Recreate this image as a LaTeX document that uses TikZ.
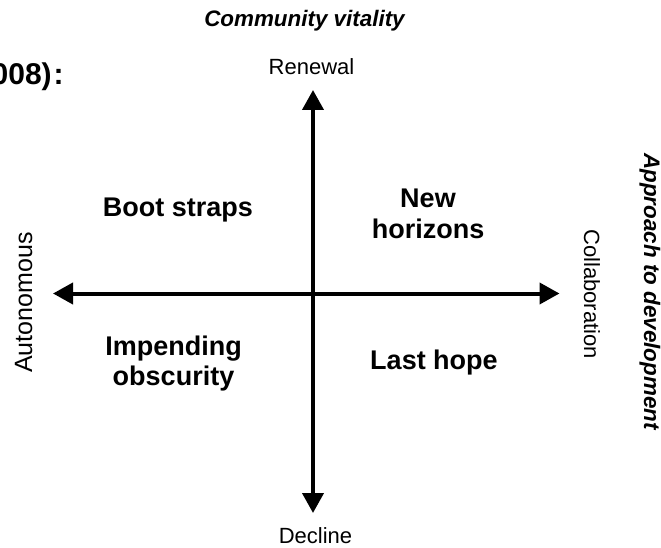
\documentclass[tikz,border=0pt]{standalone}
\usepackage{fontspec}
\setmainfont{Liberation Sans}
\usetikzlibrary{arrows.meta}
\newcommand{\fs}[1]{\fontsize{#1}{1.15\dimexpr#1pt\relax}\selectfont}
\begin{document}
\begin{tikzpicture}[x=1pt,y=-1pt,
    axis/.style={line width=4pt,
      {Triangle[length=20pt,width=21pt]}-{Triangle[length=20pt,width=21pt]}},
    pole/.style={anchor=base,inner sep=0pt,font=\fs{22}},
    quad/.style={anchor=base,inner sep=0pt,align=center,font=\fs{27}\bfseries},
    title/.style={anchor=base,inner sep=0pt,font=\fs{22.4}\bfseries\itshape}]
  \useasboundingbox (0,0) rectangle (661,548);

  % ends of the two axes
  \coordinate (up) at (313,90);
  \coordinate (down) at (313,513);
  \coordinate (west) at (53,293.5);
  \coordinate (east) at (559.5,293.5);

  \draw[axis] (down) -- (up);
  \draw[axis] (west) -- (east);

  % heading cut at the left edge
  \node[anchor=base west,inner sep=0pt,font=\fs{30}\bfseries] (head) at (-8.5,84.3) {008)\kern2pt:};

  % axis titles
  \node[title] (vit) at (304.5,27) {Community vitality};
  \node[title,rotate=-90] (appr) at (644,291.5) {Approach to development};

  % poles of the axes
  \node[pole] (renewal) at (311.5,75) {Renewal};
  \node[pole] (decline) at (315.5,543.5) {Decline};
  \node[pole,font=\fs{25},rotate=90] (auto) at (32,302.5) {Autonomous};
  \node[pole,rotate=-90] (collab) at (584,294) {Collaboration};

  % quadrants (base anchor sits on the last line)
  \node[quad] (boot) at (178,216.7) {Boot straps};
  \node[quad] (newh) at (428,238) {New\\[-0.5pt]horizons};
  \node[quad] (imp) at (173.5,385) {Impending\\[-1.5pt]obscurity};
  \node[quad] (last) at (434,369) {Last hope};
\end{tikzpicture}
\end{document}
